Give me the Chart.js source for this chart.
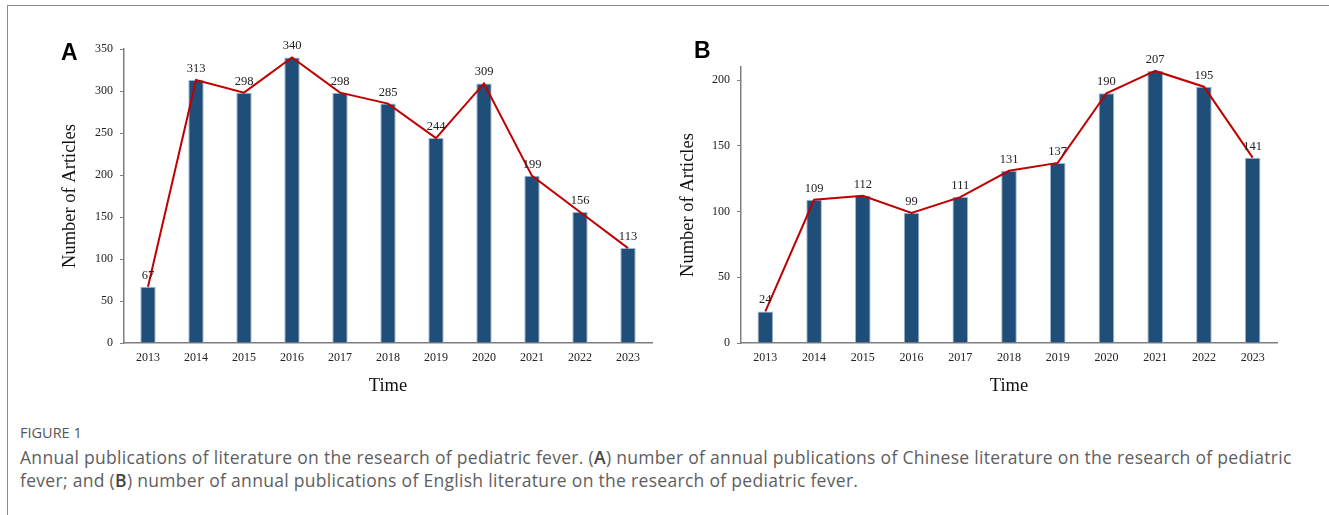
<!DOCTYPE html>
<html>
<head>
<meta charset="utf-8">
<script src="https://cdn.jsdelivr.net/npm/chart.js@4"></script>
<style>
    body { margin: 0; background: #fff; }
    #page { position: relative; width: 1329px; height: 515px; overflow: hidden; }
    .frame-top { position: absolute; left: 7px; top: 5px; width: 1322px; height: 1px; background: #8a8a8a; }
    .frame-left { position: absolute; left: 7px; top: 5px; width: 1px; height: 510px; background: #8a8a8a; }
    .panel { position: absolute; top: 0; height: 420px; }
    .letter { position: absolute; font-family: 'Liberation Sans', Arial, sans-serif; font-weight: bold; font-size: 23px; color: #000; }
    .fig { position: absolute; left: 20px; top: 424px; font-family: 'Open Sans', sans-serif; font-size: 14.5px; line-height: 18px; color: #555; }
    .caption { position: absolute; left: 20px; top: 446px; font-family: 'Open Sans', sans-serif; font-size: 17.5px; letter-spacing: 0.3px; line-height: 23px; color: #5e5e5e; white-space: nowrap; }
    .caption b { font-weight: 600; color: #444; }
</style>
</head>
<body>
<div id="page">
    <div class="frame-top"></div>
    <div class="frame-left"></div>
    <div class="panel" style="left:0;width:665px"><canvas id="chartA"></canvas></div>
    <div class="panel" style="left:665px;width:664px"><canvas id="chartB"></canvas></div>
    <div class="letter" style="left:61px;top:39px">A</div>
    <div class="letter" style="left:694px;top:37px">B</div>
    <div class="fig">FIGURE 1</div>
    <div class="caption">Annual publications of literature on the research of pediatric fever. (<b>A</b>) number of annual publications of Chinese literature on the research of pediatric<br>fever; and (<b>B</b>) number of annual publications of English literature on the research of pediatric fever.</div>
</div>
<script>
const years = ['2013', '2014', '2015', '2016', '2017', '2018', '2019', '2020', '2021', '2022', '2023'];
const chineseCounts = [67, 313, 298, 340, 298, 285, 244, 309, 199, 156, 113];
const englishCounts = [24, 109, 112, 99, 111, 131, 137, 190, 207, 195, 141];
const ticksA = [0, 50, 100, 150, 200, 250, 300, 350];
const ticksB = [0, 50, 100, 150, 200];

Chart.defaults.font.family = "'Liberation Serif', 'Times New Roman', serif";
Chart.defaults.color = '#222';

// value labels above each bar
const barLabels = {
    id: 'barLabels',
    afterDatasetsDraw(chart) {
        const ctx = chart.ctx;
        const meta = chart.getDatasetMeta(1);
        ctx.save();
        ctx.font = "12.5px 'Liberation Serif', serif";
        ctx.fillStyle = '#222';
        ctx.textAlign = 'center';
        ctx.textBaseline = 'alphabetic';
        meta.data.forEach((bar, i) => {
            ctx.fillText(chart.data.datasets[1].data[i], bar.x, bar.y - 8);
        });
        ctx.restore();
    }
};

function makeChart(id, values, tickList, maxVal, pad, yWidth) {
    return new Chart(document.getElementById(id), {
        type: 'bar',
        data: {
            labels: years,
            datasets: [{
                type: 'line',
                data: values,
                borderColor: '#C00000',
                borderWidth: 2,
                pointRadius: 0,
                tension: 0,
                order: 0
            }, {
                data: values,
                backgroundColor: '#1F4E79',
                borderColor: '#9DB5D0',
                borderWidth: 1,
                barPercentage: 0.32,
                categoryPercentage: 1,
                order: 1
            }]
        },
        options: {
            responsive: true,
            maintainAspectRatio: false,
            animation: false,
            layout: { padding: pad },
            plugins: { legend: { display: false }, tooltip: { enabled: false } },
            scales: {
                x: {
                    grid: { display: false, drawTicks: false },
                    border: { display: true, color: '#7f7f7f', width: 1.5 },
                    ticks: { padding: 8, font: { size: 12 }, color: '#222', maxRotation: 0 },
                    title: { display: true, text: 'Time', font: { size: 18.5 }, color: '#111' },
                    afterFit: (s) => { s.height = 58; }
                },
                y: {
                    min: 0,
                    max: maxVal,
                    grid: { display: true, drawOnChartArea: false, drawTicks: true, tickLength: 4, color: '#7f7f7f' },
                    border: { display: true, color: '#7f7f7f', width: 1.5 },
                    ticks: { stepSize: 50, padding: 7, font: { size: 12 }, color: '#222' },
                    afterBuildTicks: (s) => { s.ticks = tickList.map(v => ({ value: v })); },
                    title: { display: true, text: 'Number of Articles', font: { size: 18.5 }, color: '#111' },
                    afterFit: (s) => { s.width = yWidth; }
                }
            }
        },
        plugins: [barLabels]
    });
}

makeChart('chartA', chineseCounts, ticksA, 350, { left: 55, top: 49, right: 13, bottom: 19 }, 69);
makeChart('chartB', englishCounts, ticksB, 210, { left: 8, top: 67, right: 52, bottom: 19 }, 68);
</script>
</body>
</html>
